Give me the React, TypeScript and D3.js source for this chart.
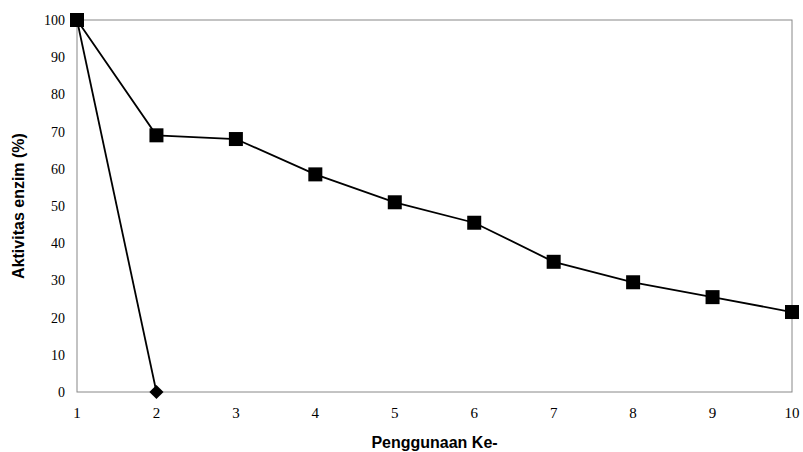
import React from 'react';
import * as d3 from 'd3';

const usage = [1, 2, 3, 4, 5, 6, 7, 8, 9, 10];
const seriesSquare = [100, 69, 68, 58.5, 51, 45.5, 35, 29.5, 25.5, 21.5];
const seriesDiamond = [100, 0];
const yTicks = [0, 10, 20, 30, 40, 50, 60, 70, 80, 90, 100];

const W = 803;
const H = 452;
const m = { left: 77, right: 11, top: 20, bottom: 60 };
const serif = 'Liberation Serif, DejaVu Serif, serif';

const App: React.FC = () => {
    const x = d3.scaleLinear().domain([1, 10]).range([m.left, W - m.right]);
    const y = d3.scaleLinear().domain([0, 100]).range([H - m.bottom, m.top]);
    const line = d3
        .line<number>()
        .x((_, i) => x(usage[i]))
        .y((d) => y(d));

    return (
        <svg
            width={W}
            height={H}
            style={{ position: 'absolute', left: 0, top: 0, background: 'white' }}
        >
            <rect
                x={m.left}
                y={m.top}
                width={W - m.left - m.right}
                height={H - m.top - m.bottom}
                fill="none"
                stroke="#888"
                strokeWidth={1}
            />
            {yTicks.map((t) => (
                <text
                    key={t}
                    x={m.left - 12}
                    y={y(t)}
                    dy="0.35em"
                    textAnchor="end"
                    fontFamily={serif}
                    fontSize={14}
                >
                    {t}
                </text>
            ))}
            {usage.map((u) => (
                <text
                    key={u}
                    x={x(u)}
                    y={H - m.bottom + 26}
                    textAnchor="middle"
                    fontFamily={serif}
                    fontSize={15}
                >
                    {u}
                </text>
            ))}
            <path d={line(seriesDiamond)!} fill="none" stroke="black" strokeWidth={1.8} />
            <path d={line(seriesSquare)!} fill="none" stroke="black" strokeWidth={1.8} />
            {seriesDiamond.map((v, i) => (
                <rect
                    key={i}
                    x={x(usage[i]) - 5}
                    y={y(v) - 5}
                    width={10}
                    height={10}
                    transform={`rotate(45 ${x(usage[i])} ${y(v)})`}
                    fill="black"
                />
            ))}
            {seriesSquare.map((v, i) => (
                <rect
                    key={i}
                    x={x(usage[i]) - 7}
                    y={y(v) - 7}
                    width={14}
                    height={14}
                    fill="black"
                />
            ))}
            <text
                x={(m.left + W - m.right) / 2}
                y={H - 4}
                textAnchor="middle"
                fontFamily="Liberation Sans, Arial, sans-serif"
                fontWeight="bold"
                fontSize={16}
            >
                Penggunaan Ke-
            </text>
            <text
                transform={`translate(24,${(m.top + H - m.bottom) / 2}) rotate(-90)`}
                textAnchor="middle"
                fontFamily="Liberation Sans, Arial, sans-serif"
                fontWeight="bold"
                fontSize={16}
            >
                Aktivitas enzim (%)
            </text>
        </svg>
    );
};

export default App;
